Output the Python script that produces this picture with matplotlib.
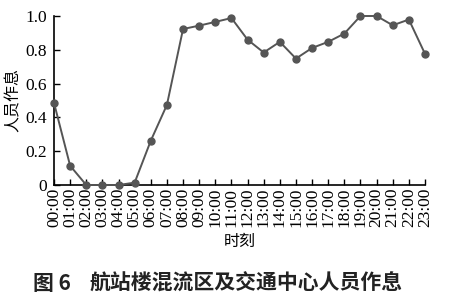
from matplotlib import pyplot as plt
import numpy as np

plt.rcParams['font.family'] = ['Liberation Serif', 'DejaVu Serif']

hours = ['%02d:00' % h for h in range(24)]
rest = [0.486, 0.114, 0.0, 0.0, 0.0, 0.014, 0.262, 0.474, 0.923, 0.943, 0.965, 0.988,
        0.860, 0.784, 0.847, 0.748, 0.811, 0.847, 0.896, 1.0, 1.0, 0.945, 0.979, 0.776]
y_ticks = [0, 0.2, 0.4, 0.6, 0.8, 1.0]
y_labels = ['0', '0.2', '0.4', '0.6', '0.8', '1.0']

cjk = ['Noto Sans CJK SC', 'DejaVu Sans']

fig = plt.figure(figsize=(4.75, 2.99), dpi=100)
ax = fig.add_axes([54 / 475, 1 - 185 / 299, 371 / 475, 169 / 299])

x = np.arange(len(hours))
ax.plot(x, rest, color='#555555', lw=1.4, marker='o', ms=5, clip_on=False, zorder=3)

ax.set_xlim(0, 23)
ax.set_ylim(0, 1.0)
ax.set_xticks(x)
ax.set_xticklabels(hours, rotation=90, fontsize=12.5, family='Liberation Serif')
ax.set_yticks(y_ticks)
ax.set_yticklabels(y_labels, fontsize=12.5, family='Liberation Serif')
ax.tick_params(direction='in', length=4, width=1, pad=2)
ax.tick_params(axis='y', pad=5)
for s in ['top', 'right']:
    ax.spines[s].set_visible(False)
for s in ['left', 'bottom']:
    ax.spines[s].set_linewidth(1.2)

ax.set_ylabel('人员作息', family=cjk, fontsize=11.5, labelpad=3)
ax.set_xlabel('时刻', family=cjk, fontsize=11.5, labelpad=4)

fig.text(33 / 475, 1 - 283 / 299, '图 6', family=cjk,
         fontsize=15, fontweight='bold', va='center', ha='left', color='#222222')
fig.text(90 / 475, 1 - 283 / 299, '航站楼混流区及交通中心人员作息', family=cjk,
         fontsize=15, fontweight='bold', va='center', ha='left', color='#222222')

fig.savefig('out.png', dpi=100)
